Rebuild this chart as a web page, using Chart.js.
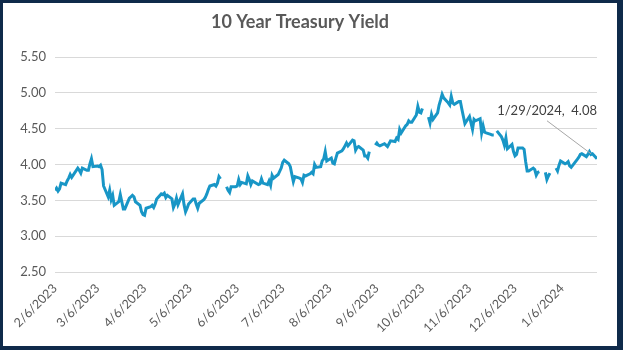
<!DOCTYPE html>
<html>
<head>
<meta charset="utf-8">
<title>10 Year Treasury Yield</title>
<script src="https://cdn.jsdelivr.net/npm/chart.js@4.4.1/dist/chart.umd.min.js"></script>
<style>
  html, body { margin: 0; padding: 0; background: #fff; }
  #frame {
    width: 623px; height: 350px; box-sizing: border-box;
    border-style: solid; border-color: #0f2a4a; border-width: 3px 6px 4px 3px;
    background: #fff;
  }
  canvas { display: block; }
</style>
</head>
<body>
<div id="frame"><canvas id="yield-chart" width="614" height="343"></canvas></div>
<script>
// 10 year treasury yield, one value per trading day (null = holiday, drawn as a gap)
const startDate = '2/6/2023';
const endDate = '1/29/2024';
// holidays that are not in the series at all (line just runs across them)
const skippedDays = ['2/20/2023', '6/19/2023', '7/4/2023', '1/15/2024'];

const feb23 = [3.64, 3.67, 3.63, 3.66, 3.74, 3.72, 3.77, 3.81, 3.86, 3.82, 3.95, 3.92, 3.88, 3.95, 3.92, 3.92];
const mar23 = [4.01, 4.08, 3.97, 3.98, 3.97, 3.99, 3.93, 3.70, 3.55, 3.64, 3.51, 3.57, 3.43, 3.48, 3.58, 3.48, 3.38, 3.38, 3.53, 3.55, 3.57, 3.55, 3.48];
const apr23 = [3.43, 3.34, 3.30, 3.29, 3.39, 3.41, 3.43, 3.40, 3.45, 3.52, 3.59, 3.58, 3.60, 3.54, 3.57, 3.52, 3.40, 3.45, 3.53, 3.44];
const may23 = [3.59, 3.44, 3.34, 3.39, 3.45, 3.52, 3.52, 3.45, 3.39, 3.46, 3.51, 3.54, 3.59, 3.65, 3.70, 3.72, 3.70, 3.74, 3.83, 3.80, null, 3.69, 3.64];
const jun23 = [3.61, 3.69, 3.69, 3.70, 3.79, 3.72, 3.75, 3.73, 3.84, 3.79, 3.72, 3.77, 3.72, 3.73, 3.80, 3.74, 3.72, 3.77, 3.71, 3.85, 3.81];
const jul23 = [3.86, 3.95, 4.03, 4.06, 4.01, 3.97, 3.86, 3.76, 3.83, 3.81, 3.80, 3.75, 3.85, 3.84, 3.87, 3.89, 3.87, 4.00, 3.96, 3.97];
const aug23 = [4.05, 4.08, 4.18, 4.05, 4.09, 4.02, 4.01, 4.09, 4.16, 4.19, 4.22, 4.26, 4.30, 4.26, 4.34, 4.33, 4.20, 4.24, 4.25, 4.20, 4.12, 4.12, 4.09];
const sep23 = [4.18, null, 4.27, 4.30, 4.27, 4.26, 4.29, 4.27, 4.25, 4.29, 4.33, 4.32, 4.37, 4.35, 4.49, 4.44, 4.54, 4.56, 4.61, 4.59, 4.59];
const oct23 = [4.69, 4.81, 4.73, 4.72, 4.78, null, 4.66, 4.58, 4.70, 4.63, 4.72, 4.83, 4.90, 4.98, 4.93, 4.86, 4.83, 4.95, 4.86, 4.84, 4.88, 4.88];
const nov23 = [4.77, 4.67, 4.57, 4.67, 4.58, 4.49, 4.63, 4.61, 4.64, 4.44, 4.54, 4.45, 4.44, 4.42, 4.41, 4.41, null, 4.47, 4.39, 4.34, 4.27, 4.37];
const dec23 = [4.22, 4.28, 4.18, 4.12, 4.14, 4.23, 4.23, 4.21, 4.04, 3.91, 3.91, 3.95, 3.93, 3.85, 3.89, 3.90, null, 3.89, 3.79, 3.84, 3.88];
const jan24 = [null, 3.95, 3.91, 3.99, 4.05, 4.01, 4.02, 4.04, 3.98, 3.96, 4.07, 4.10, 4.14, 4.15, 4.11, 4.14, 4.18, 4.14, 4.15, 4.08];

const tickLabels = ['2/6/2023', '3/6/2023', '4/6/2023', '5/6/2023', '6/6/2023', '7/6/2023',
  '8/6/2023', '9/6/2023', '10/6/2023', '11/6/2023', '12/6/2023', '1/6/2024'];
const yTicks = [2.5, 3.0, 3.5, 4.0, 4.5, 5.0, 5.5];

const DAY = 86400000;

function toUTC(str) {
  const [m, d, y] = str.split('/').map(Number);
  return Date.UTC(y, m - 1, d);
}

const start = toUTC(startDate);
const end = toUTC(endDate);

// day number (from startDate) of every weekday that is in the series
function tradingDays() {
  const skipped = skippedDays.map(toUTC);
  const days = [];
  for (let t = start; t <= end; t += DAY) {
    const wd = new Date(t).getUTCDay();
    if (wd === 0 || wd === 6) continue;
    if (skipped.includes(t)) continue;
    days.push((t - start) / DAY);
  }
  return days;
}

const values = [].concat(feb23, mar23, apr23, may23, jun23, jul23, aug23, sep23, oct23, nov23, dec23, jan24);
const days = tradingDays();
if (days.length !== values.length) {
  console.error('dates and values differ', days.length, values.length);
}
const points = days.map((d, i) => ({ x: d, y: values[i] }));
const tickDays = tickLabels.map(s => (toUTC(s) - start) / DAY);

const textColor = '#595959';

// data label on the last point with its leader line
const lastPointLabel = {
  id: 'lastPointLabel',
  afterDatasetsDraw(chart) {
    const meta = chart.getDatasetMeta(0);
    const pt = meta.data[meta.data.length - 1];
    const ctx = chart.ctx;
    ctx.save();
    ctx.strokeStyle = '#a6a6a6';
    ctx.lineWidth = 1;
    ctx.beginPath();
    ctx.moveTo(pt.x - 50, pt.y - 38);
    ctx.lineTo(pt.x - 6, pt.y - 5);
    ctx.stroke();
    ctx.fillStyle = '#404040';
    ctx.font = '13px Lato';
    ctx.textAlign = 'right';
    ctx.textBaseline = 'middle';
    ctx.fillText(endDate + ',  ' + values[values.length - 1].toFixed(2), pt.x, pt.y - 48);
    ctx.restore();
  }
};

const ctx = document.getElementById('yield-chart').getContext('2d');

new Chart(ctx, {
  type: 'line',
  data: {
    datasets: [{
      label: '10 Year Treasury Yield',
      data: points,
      borderColor: '#1896c6',
      borderWidth: 3,
      pointRadius: 0,
      tension: 0,
      spanGaps: false,
      fill: false
    }]
  },
  options: {
    responsive: false,
    animation: false,
    events: [],
    layout: { padding: { top: 0, right: 20, bottom: 0, left: 0 } },
    plugins: {
      legend: { display: false },
      tooltip: { enabled: false },
      title: {
        display: true,
        text: '10 Year Treasury Yield',
        color: textColor,
        font: { family: 'Lato', size: 18, weight: 'bold' },
        padding: { top: 8, bottom: 24.4 }
      }
    },
    scales: {
      x: {
        type: 'linear',
        min: 0,
        max: (end - start) / DAY,
        grid: { display: false, drawTicks: false },
        border: { display: false },
        afterBuildTicks: scale => { scale.ticks = tickDays.map(v => ({ value: v })); },
        afterFit: scale => { scale.height = 74; },
        ticks: {
          autoSkip: false,
          maxRotation: 45,
          minRotation: 45,
          padding: 9,
          color: textColor,
          font: { family: 'Lato', size: 12.5 },
          callback: (value, index) => tickLabels[index]
        }
      },
      y: {
        min: yTicks[0],
        max: yTicks[yTicks.length - 1],
        grid: { color: '#d9d9d9', drawTicks: false },
        border: { display: false },
        afterFit: scale => { scale.width = 52; },
        ticks: {
          stepSize: 0.5,
          padding: 9,
          color: textColor,
          font: { family: 'Lato', size: 13 },
          callback: value => value.toFixed(2)
        }
      }
    }
  },
  plugins: [lastPointLabel]
});
</script>
</body>
</html>
